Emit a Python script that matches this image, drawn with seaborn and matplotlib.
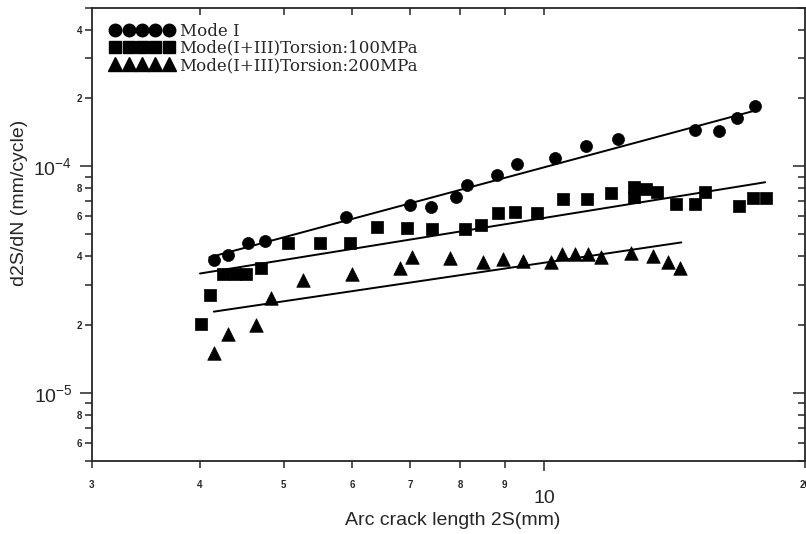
import numpy as np
import pandas as pd
import matplotlib
matplotlib.use("Agg")
import matplotlib.pyplot as plt
import seaborn as sns
from matplotlib.ticker import FixedLocator, FuncFormatter, LogLocator, NullFormatter
from matplotlib.lines import Line2D

# Mode I
mode1_x = [4.15, 4.31, 4.55, 4.75, 5.90, 7.00, 7.39, 7.90, 8.15, 8.81, 9.29,
           10.30, 11.16, 12.18, 14.95, 15.93, 16.71, 17.53]
mode1_y = [3.84e-5, 4.04e-5, 4.57e-5, 4.66e-5, 5.95e-5, 6.72e-5, 6.59e-5, 7.29e-5,
           8.24e-5, 9.12e-5, 1.02e-4, 1.085e-4, 1.226e-4, 1.316e-4, 1.443e-4,
           1.429e-4, 1.63e-4, 1.84e-4]

# Mode (I+III), torsion 100 MPa
t100_x = [4.01, 4.11, 4.25, 4.39, 4.52, 4.70, 5.05, 5.50, 5.96, 6.40, 6.93, 7.41,
          8.09, 8.44, 8.85, 9.24, 9.80, 10.50, 11.19, 11.93, 12.68, 12.68, 13.09,
          13.48, 14.21, 14.95, 15.35, 16.80, 17.44, 18.05]
t100_y = [2.02e-5, 2.71e-5, 3.36e-5, 3.36e-5, 3.36e-5, 3.54e-5, 4.57e-5, 4.57e-5,
          4.57e-5, 5.37e-5, 5.32e-5, 5.26e-5, 5.26e-5, 5.48e-5, 6.19e-5, 6.26e-5,
          6.19e-5, 7.14e-5, 7.14e-5, 7.59e-5, 8.07e-5, 7.29e-5, 7.91e-5, 7.67e-5,
          6.79e-5, 6.79e-5, 7.67e-5, 6.65e-5, 7.22e-5, 7.22e-5]

# Mode (I+III), torsion 200 MPa
t200_x = [4.15, 4.31, 4.64, 4.83, 5.26, 5.99, 6.82, 7.04, 7.79, 8.49, 8.95, 9.44,
          10.19, 10.47, 10.84, 11.22, 11.64, 12.58, 13.37, 13.88, 14.36]
t200_y = [1.49e-5, 1.82e-5, 2.00e-5, 2.61e-5, 3.13e-5, 3.36e-5, 3.57e-5, 3.96e-5,
          3.92e-5, 3.76e-5, 3.88e-5, 3.80e-5, 3.76e-5, 4.08e-5, 4.08e-5, 4.08e-5,
          3.96e-5, 4.12e-5, 4.00e-5, 3.76e-5, 3.57e-5]

# fitted power-law lines (end points)
mode1_fit_x = [4.10, 17.6]
mode1_fit_y = [3.96e-5, 1.77e-4]
t100_fit_x = [4.00, 18.0]
t100_fit_y = [3.36e-5, 8.5e-5]
t200_fit_x = [4.15, 14.4]
t200_fit_y = [2.28e-5, 4.61e-5]

labels = ["Mode I", "Mode(I+III)Torsion:100MPa", "Mode(I+III)Torsion:200MPa"]

sns.set_style("ticks")
plt.rcParams["font.family"] = ["Liberation Sans", "DejaVu Sans"]
plt.rcParams["mathtext.default"] = "regular"

fig, ax = plt.subplots(figsize=(8.06, 5.34), dpi=100)
fig.subplots_adjust(left=0.114, right=0.9985, bottom=0.137, top=0.985)

series = [
    (mode1_x, mode1_y, mode1_fit_x, mode1_fit_y, "o", 75),
    (t100_x, t100_y, t100_fit_x, t100_fit_y, "s", 72),
    (t200_x, t200_y, t200_fit_x, t200_fit_y, "^", 95),
]
for xs, ys, fx, fy, mk, sz in series:
    sns.scatterplot(x=xs, y=ys, marker=mk, s=sz, color="black",
                    edgecolor="black", linewidth=0.5, ax=ax, legend=False, zorder=3)
    sns.lineplot(x=fx, y=fy, color="black", linewidth=1.4, ax=ax,
                 legend=False, zorder=2)

ax.set_xscale("log")
ax.set_yscale("log")
ax.set_xlim(3, 20)
ax.set_ylim(5e-6, 5e-4)

# x ticks
ax.xaxis.set_major_locator(FixedLocator([10]))
ax.xaxis.set_major_formatter(FuncFormatter(lambda v, p: "10"))
ax.xaxis.set_minor_locator(FixedLocator([3, 4, 5, 6, 7, 8, 9, 20]))
ax.xaxis.set_minor_formatter(FuncFormatter(lambda v, p: f"{v:g}"))

# y ticks
ax.yaxis.set_major_locator(LogLocator(base=10))
ax.yaxis.set_major_formatter(FuncFormatter(
    lambda v, p: r"$\mathregular{10^{%d}}$" % int(round(np.log10(v)))))
ax.yaxis.set_minor_locator(LogLocator(base=10, subs=range(2, 10)))


def minor_y(v, p):
    m = v / 10 ** np.floor(np.log10(v) + 1e-9)
    m = int(round(m))
    return str(m) if m in (2, 4, 6, 8) else ""


ax.yaxis.set_minor_formatter(FuncFormatter(minor_y))

ax.tick_params(axis="both", which="major", direction="out", length=9, width=1.1,
               labelsize=14)
ax.tick_params(axis="both", which="minor", direction="out", length=5, width=1.1,
               labelsize=7)
ax.tick_params(axis="x", which="minor", pad=8.5)
ax.tick_params(axis="x", which="major", length=7, pad=14)
ax.tick_params(axis="y", which="major", pad=5)
ax.tick_params(axis="y", which="minor", pad=2)
for lab in ax.get_xminorticklabels() + ax.get_yminorticklabels():
    lab.set_fontweight("bold")

for sp in ax.spines.values():
    sp.set_visible(True)
    sp.set_linewidth(1.3)

# inward ticks on top and right
ax_top = ax.twiny()
ax_top.set_xscale("log")
ax_top.set_xlim(3, 20)
ax_top.xaxis.set_major_locator(FixedLocator([10]))
ax_top.xaxis.set_minor_locator(FixedLocator([4, 5, 6, 7, 8, 9]))
ax_top.xaxis.set_major_formatter(NullFormatter())
ax_top.xaxis.set_minor_formatter(NullFormatter())
ax_top.tick_params(axis="x", which="both", direction="in", length=5, width=1.1)

ax_r = ax.twinx()
ax_r.set_yscale("log")
ax_r.set_ylim(5e-6, 5e-4)
ax_r.yaxis.set_major_locator(LogLocator(base=10))
ax_r.yaxis.set_minor_locator(LogLocator(base=10, subs=range(2, 10)))
ax_r.yaxis.set_major_formatter(NullFormatter())
ax_r.yaxis.set_minor_formatter(NullFormatter())
ax_r.tick_params(axis="y", which="major", direction="in", length=9, width=1.1)
ax_r.tick_params(axis="y", which="minor", direction="in", length=5, width=1.1)
for a in (ax_top, ax_r):
    for sp in a.spines.values():
        sp.set_visible(False)

ax.set_xlabel("Arc crack length 2S(mm)", fontsize=14)
ax.set_ylabel("d2S/dN (mm/cycle)", fontsize=14)
ax.xaxis.set_label_coords(0.506, -0.112)
ax.yaxis.set_label_coords(-0.09, 0.57)

handles = [
    Line2D([], [], marker="o", ls="none", color="black", ms=9),
    Line2D([], [], marker="s", ls="none", color="black", ms=9),
    Line2D([], [], marker="^", ls="none", color="black", ms=10),
]
leg = ax.legend(handles, labels, loc="upper left", bbox_to_anchor=(0.026, 0.968),
                frameon=False, numpoints=5, handlelength=3.8, handletextpad=0.35,
                borderpad=0, borderaxespad=0, labelspacing=0.02,
                prop={"family": "DejaVu Serif", "size": 12})

fig.savefig("out.png", dpi=100)
